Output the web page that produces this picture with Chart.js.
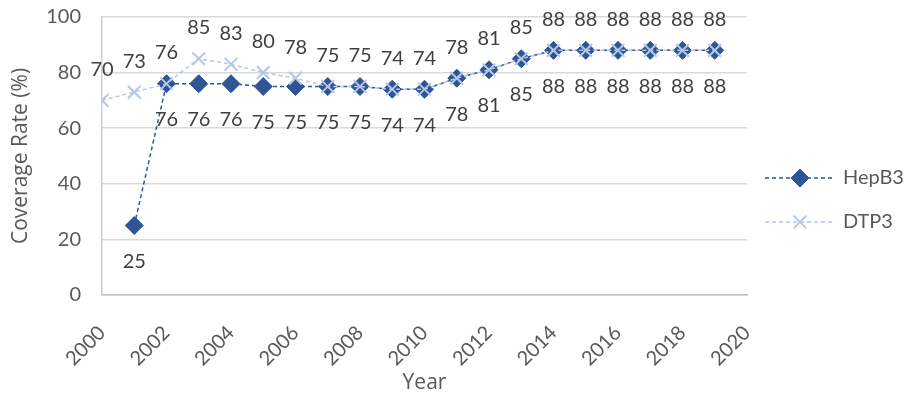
<!DOCTYPE html>
<html>
<head>
<meta charset="utf-8">
<script src="https://cdn.jsdelivr.net/npm/chart.js@4"></script>
<style>
  html, body { margin: 0; padding: 0; background: #fff; }
  #wrap { width: 906px; height: 404px; }
</style>
</head>
<body>
<div id="wrap"><canvas id="coverageChart"></canvas></div>
<script>
// years on the x axis
var years = [2000, 2001, 2002, 2003, 2004, 2005, 2006, 2007, 2008, 2009,
             2010, 2011, 2012, 2013, 2014, 2015, 2016, 2017, 2018, 2019];
// HepB3 has no value for 2000
var hepB3 = [null, 25, 76, 76, 76, 75, 75, 75, 75, 74,
             74, 78, 81, 85, 88, 88, 88, 88, 88, 88];
var dtp3  = [70, 73, 76, 85, 83, 80, 78, 75, 75, 74,
             74, 78, 81, 85, 88, 88, 88, 88, 88, 88];
var yTicks = [0, 20, 40, 60, 80, 100];
var xTicks = [2000, 2002, 2004, 2006, 2008, 2010, 2012, 2014, 2016, 2018, 2020];

var fontFam = 'Lato, "Open Sans", sans-serif';
var titleFam = '"Open Sans", Lato, sans-serif';

function toPoints(vals) {
  var pts = [];
  for (var i = 0; i < years.length; i++) {
    if (vals[i] !== null) pts.push({x: years[i], y: vals[i]});
  }
  return pts;
}

// value labels: HepB3 under the point, DTP3 over it
var valueLabels = {
  id: 'valueLabels',
  afterDatasetsDraw: function(chart) {
    var ctx = chart.ctx;
    ctx.save();
    ctx.font = '20px ' + fontFam;
    ctx.fillStyle = '#404040';
    ctx.textAlign = 'center';
    ctx.textBaseline = 'middle';
    chart.data.datasets.forEach(function(ds, di) {
      var meta = chart.getDatasetMeta(di);
      meta.data.forEach(function(pt, i) {
        var off = ds.labelPos === 'below' ? 36 : -31;
        ctx.fillText(String(ds.data[i].y), pt.x, pt.y + off);
      });
    });
    ctx.restore();
  }
};

// legend on the right: dashed line with the marker in the middle
var sideLegend = {
  id: 'sideLegend',
  afterDraw: function(chart) {
    var ctx = chart.ctx;
    var x0 = 765;
    var rows = [178, 222];
    chart.data.datasets.forEach(function(ds, di) {
      var y = rows[di];
      ctx.save();
      ctx.strokeStyle = ds.borderColor;
      ctx.fillStyle = ds.backgroundColor;
      ctx.lineWidth = 1.5;
      ctx.setLineDash([4, 3]);
      ctx.beginPath();
      ctx.moveTo(x0, y);
      ctx.lineTo(x0 + 70, y);
      ctx.stroke();
      ctx.setLineDash([]);
      ctx.lineWidth = ds.pointBorderWidth;
      Chart.helpers.drawPoint(ctx, {
        pointStyle: ds.pointStyle,
        radius: ds.pointRadius,
        borderWidth: ds.pointBorderWidth
      }, x0 + 35, y);
      ctx.font = '20px ' + fontFam;
      ctx.fillStyle = '#595959';
      ctx.textBaseline = 'middle';
      ctx.fillText(ds.label, x0 + 78, y);
      ctx.restore();
    });
  }
};

var ctx = document.getElementById('coverageChart').getContext('2d');
var coverageChart = new Chart(ctx, {
  type: 'line',
  data: {
    datasets: [{
      label: 'HepB3',
      data: toPoints(hepB3),
      labelPos: 'below',
      order: 2,
      borderColor: '#2F5597',
      backgroundColor: '#2F5597',
      borderWidth: 1.5,
      borderDash: [4, 3],
      pointStyle: 'rectRot',
      pointRadius: 9,
      pointBorderWidth: 1,
      fill: false
    }, {
      label: 'DTP3',
      data: toPoints(dtp3),
      labelPos: 'above',
      order: 1,
      borderColor: '#B4C7E7',
      backgroundColor: '#B4C7E7',
      borderWidth: 1.5,
      borderDash: [4, 3],
      pointStyle: 'crossRot',
      pointRadius: 9,
      pointBorderWidth: 2,
      fill: false
    }]
  },
  options: {
    responsive: true,
    maintainAspectRatio: false,
    animation: false,
    layout: {
      padding: { left: 0, right: 159, top: 17, bottom: 0 }
    },
    plugins: {
      legend: { display: false },
      tooltip: { enabled: false }
    },
    scales: {
      x: {
        type: 'linear',
        min: 2000,
        max: 2020,
        afterBuildTicks: function(axis) {
          axis.ticks = xTicks.map(function(v) { return {value: v}; });
        },
        afterFit: function(axis) {
          axis.height = 109;
          axis.paddingLeft = 0;
          axis.paddingRight = 0;
        },
        grid: { display: false },
        border: { display: true, color: '#bfbfbf', width: 1.5 },
        ticks: {
          minRotation: 45,
          maxRotation: 45,
          padding: 18,
          color: '#595959',
          font: { family: fontFam, size: 20 },
          callback: function(val) { return String(val); }
        },
        title: {
          display: true,
          text: 'Year',
          color: '#595959',
          font: { family: titleFam, size: 21 },
          padding: { top: 0, bottom: 8 }
        }
      },
      y: {
        min: 0,
        max: 100,
        afterBuildTicks: function(axis) {
          axis.ticks = yTicks.map(function(v) { return {value: v}; });
        },
        afterFit: function(axis) {
          axis.width = 102;
          axis.paddingTop = 0;
          axis.paddingBottom = 0;
        },
        grid: { color: '#d9d9d9', lineWidth: 1.5, drawTicks: false },
        border: { display: true, color: '#d0d0d0', width: 1.5 },
        ticks: {
          padding: 21,
          color: '#595959',
          font: { family: fontFam, size: 20 }
        },
        title: {
          display: true,
          text: 'Coverage Rate (%)',
          color: '#595959',
          font: { family: titleFam, size: 21 },
          padding: { top: 8, bottom: 0 }
        }
      }
    }
  },
  plugins: [valueLabels, sideLegend]
});
</script>
</body>
</html>
